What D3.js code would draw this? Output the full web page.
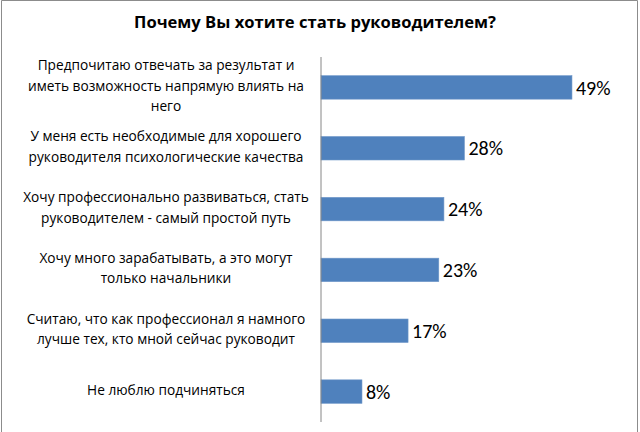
<!DOCTYPE html>
<html><head><meta charset="utf-8">
<script src="https://cdn.jsdelivr.net/npm/d3@7"></script>
<style>
html,body{margin:0;padding:0;background:#fff;}
svg{display:block;}
</style></head>
<body>
<svg id="chart" width="640" height="432"></svg>
<script>
const title = "Почему Вы хотите стать руководителем?";
const categories = [
  "Предпочитаю отвечать за результат и|иметь возможность напрямую влиять на|него",
  "У меня есть необходимые для хорошего|руководителя психологические качества",
  "Хочу профессионально развиваться, стать|руководителем - самый простой путь",
  "Хочу много зарабатывать, а это могут|только начальники",
  "Считаю, что как профессионал я намного|лучше тех, кто мной сейчас руководит",
  "Не люблю подчиняться"
];
const values = [49, 28, 24, 23, 17, 8];
const valueLabels = ["49%", "28%", "24%", "23%", "17%", "8%"];

const svg = d3.select("#chart");
const font = "'Open Sans', 'Noto Sans', sans-serif";
const numFont = "Carlito, Lato, sans-serif";

// frame
svg.append("path")
  .attr("d", "M1.5,432 V0.5 H637.5 V432")
  .attr("fill", "none").attr("stroke", "#8c8c8c").attr("stroke-width", 1);

svg.append("text")
  .attr("x", 315).attr("y", 28)
  .attr("text-anchor", "middle")
  .attr("font-family", font).attr("font-weight", "bold").attr("font-size", 16.6)
  .attr("fill", "#000")
  .text(title);

const x = d3.scaleLinear().domain([0, 60]).range([321, 628.3]);
const y = d3.scaleBand().domain(d3.range(categories.length)).range([57, 422])
  .paddingInner(0.614).paddingOuter(0.307);

svg.selectAll("rect.bar").data(values).join("rect")
  .attr("class", "bar")
  .attr("x", x(0))
  .attr("y", (d, i) => y(i))
  .attr("width", d => x(d) - x(0))
  .attr("height", y.bandwidth())
  .attr("fill", "#4F81BD")
  .attr("stroke", "#6f97c8").attr("stroke-width", 0.6);

// axis line
svg.append("line")
  .attr("x1", x(0)).attr("x2", x(0)).attr("y1", 57).attr("y2", 422)
  .attr("stroke", "#868686").attr("stroke-width", 1);

// category labels
const lh = 20.5;
categories.forEach((c, i) => {
  const lines = c.split("|");
  const cy = y(i) + y.bandwidth() / 2 - 1.5;
  const t = svg.append("text")
    .attr("font-family", font).attr("font-size", 13.7).attr("fill", "#000")
    .attr("text-anchor", "middle");
  lines.forEach((ln, k) => {
    t.append("tspan")
      .attr("x", 166)
      .attr("y", cy + (k - (lines.length - 1) / 2) * lh)
      .attr("dy", "0.35em")
      .text(ln);
  });
});

// value labels
svg.selectAll("text.val").data(values).join("text")
  .attr("class", "val")
  .attr("x", d => x(d) + 4)
  .attr("y", (d, i) => y(i) + y.bandwidth() / 2)
  .attr("dy", "0.36em")
  .attr("font-family", numFont).attr("font-size", 20).attr("fill", "#000")
  .text((d, i) => valueLabels[i]);
</script>
</body></html>
